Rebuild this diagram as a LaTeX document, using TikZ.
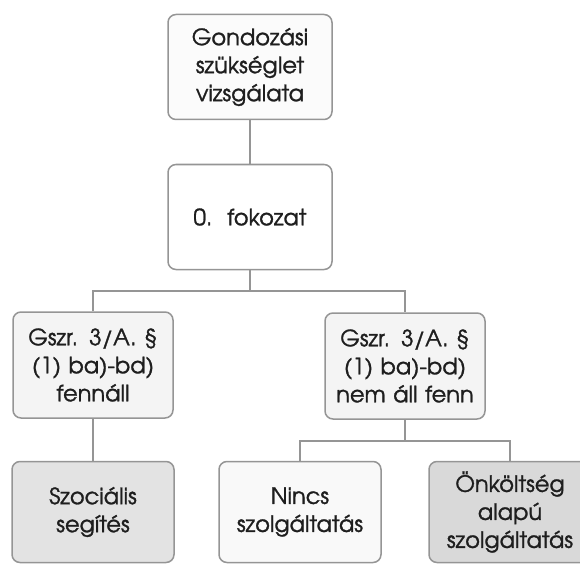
\documentclass[tikz,border=0pt]{standalone}
\usepackage{fontspec}
\setmainfont[FakeBold=1.2]{texgyreadventor-regular.otf}
\usepackage{xcolor}
\usepackage{tikz}

\definecolor{edge}{HTML}{959595}
\definecolor{ink}{HTML}{1E1E1E}

\begin{document}
\begin{tikzpicture}[
  x=1pt, y=-1pt,
  every node/.style={font=\fontsize{22.5}{28}\selectfont, text=ink},
  box/.style={draw=edge, line width=1.5pt, rounded corners=8pt, align=center,
    fill=white, inner sep=2pt},
  topbox/.style={box, minimum width=164pt, minimum height=105pt, text width=156pt},
  midbox/.style={box, minimum width=160pt, minimum height=106pt, text width=156pt, fill=gray!9},
  leafbox/.style={box, minimum width=161pt, minimum height=101pt, text width=158pt},
  link/.style={draw=edge, line width=1.5pt}
]
\useasboundingbox (0,0) rectangle (580,564);

\node[topbox, fill=gray!3] (vizsgalat) at (250,67) {Gondozási\\szükséglet\\vizsgálata};
\node[topbox] (fokozat) at (250,217) {0.~~fokozat};
\node[midbox] (fennall) at (93,365) {Gszr. 3/A. §\\(1) ba)-bd)\\fennáll};
\node[midbox] (nemall) at (405,366) {Gszr. 3/A. §\\(1) ba)-bd)\\nem áll fenn};
\node[leafbox, fill=gray!22] (segites) at (93,512) {Szociális\\segítés};
\node[leafbox, fill=gray!5] (nincs) at (300,512) {Nincs\\szolgáltatás};
\node[leafbox, fill=gray!30] (onkoltseg) at (510,512) {Önköltség\\alapú\\szolgáltatás};

\coordinate (bus1) at (250,291);
\coordinate (bus2) at (405,441);

\draw[link] (vizsgalat) -- (fokozat);
\draw[link] (fokozat) -- (bus1);
\draw[link] (fennall.north) |- (bus1) -| (nemall.north);
\draw[link] (fennall) -- (segites);
\draw[link] (nemall) -- (bus2);
\draw[link] (nincs.north) |- (bus2) -| (onkoltseg.north);
\end{tikzpicture}
\end{document}
